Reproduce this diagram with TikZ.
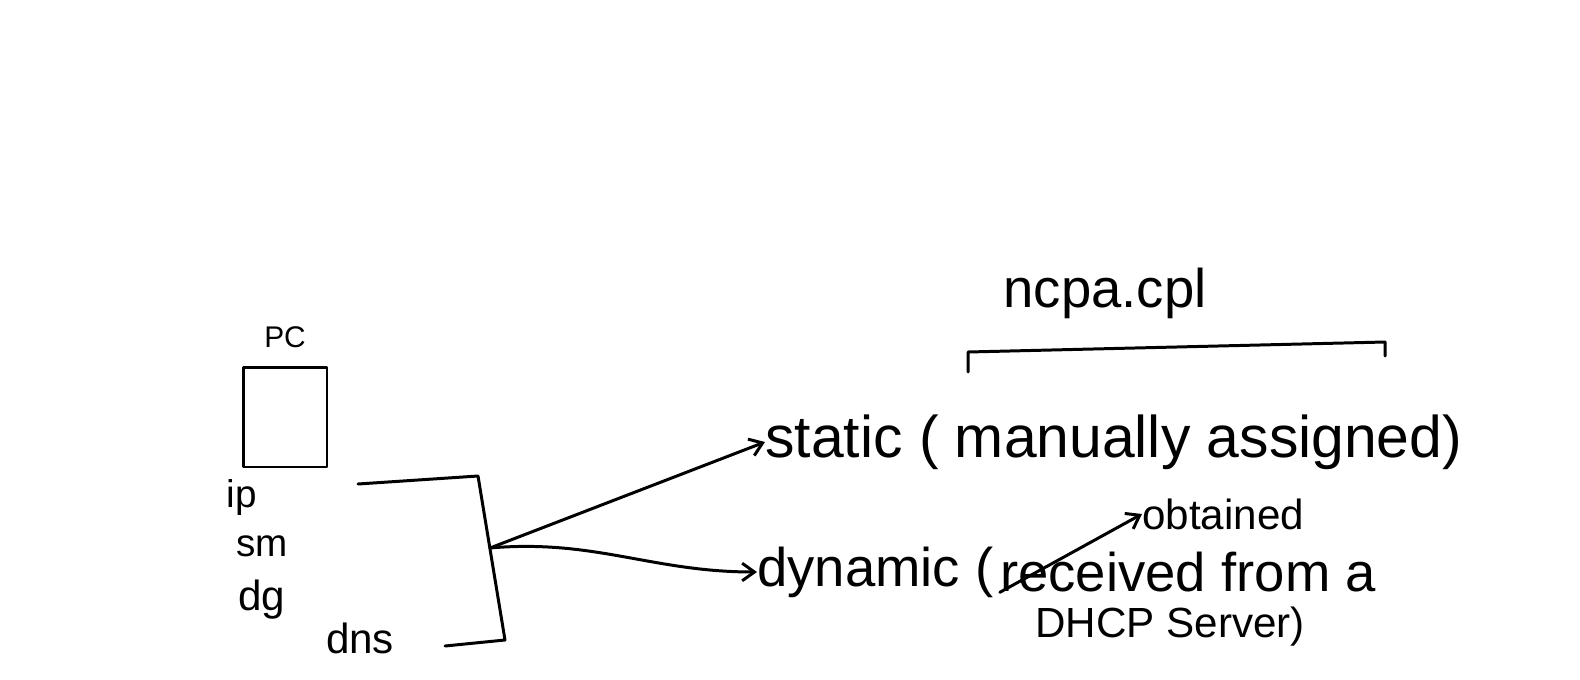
\documentclass[tikz,border=0pt]{standalone}
\usepackage{fontspec}
\setmainfont{Liberation Sans}
\usetikzlibrary{positioning,arrows.meta}

\begin{document}
\begin{tikzpicture}[x=0.02cm,y=-0.02cm,
    ink/.style={line width=1.7pt,line cap=round,line join=round},
    pen/.style={ink,-{Straight Barb[length=7pt,width=10pt]}},
    big/.style={font=\fontsize{31}{36}\selectfont,inner sep=0pt},
    mid/.style={font=\fontsize{24}{28}\selectfont,inner sep=0pt},
    tiny/.style={font=\fontsize{17}{20}\selectfont,inner sep=0pt}]
  \useasboundingbox (0,0) rectangle (1580,680);
  % the pc and its settings
  \node (box) [draw,ink,minimum width=1.68cm,minimum height=2cm] at (285,417) {};
  \node (pc) [tiny,above=0.35cm of box] {PC};
  \node (ip) [mid,font=\fontsize{22}{26}\selectfont] at (242,497) {ip};
  \node (sm) [mid,font=\fontsize{22}{26}\selectfont] at (262,546) {sm};
  \node (dg) [mid] at (262,600) {dg};
  \node (dns) [mid] at (360,638) {dns};
  \draw [ink] (358,484) -- (478,476) -- (505,640) -- (445,646);
  \coordinate (split) at (490,548);
  % the two ways
  \node (static) [big,font=\fontsize{33.5}{38}\selectfont,anchor=west] at (765,442) {static ( manually assigned)};
  \node (dyn) [big,anchor=west] at (757,572) {dynamic (};
  \node (recv) [big,right=0.12cm of dyn] {received};
  \node (from) [big,right=0.3cm of recv] {from a};
  \node (dhcp) [mid,anchor=west] at (1035,627) {DHCP Server)};
  \node (obt) [mid,anchor=west] at (1142,514) {obtained};
  \draw [pen] (split) -- (static.west);
  \draw [pen] (split) to[out=5,in=180] (dyn.west);
  \draw [pen] (recv.south west) -- (obt.west);
  % ncpa.cpl over static
  \node (ncpa) [big] at (1105,293) {ncpa.cpl};
  \draw [ink] (968,372) -- (968,352) -- (1385,342) -- (1385,356);
\end{tikzpicture}
\end{document}
